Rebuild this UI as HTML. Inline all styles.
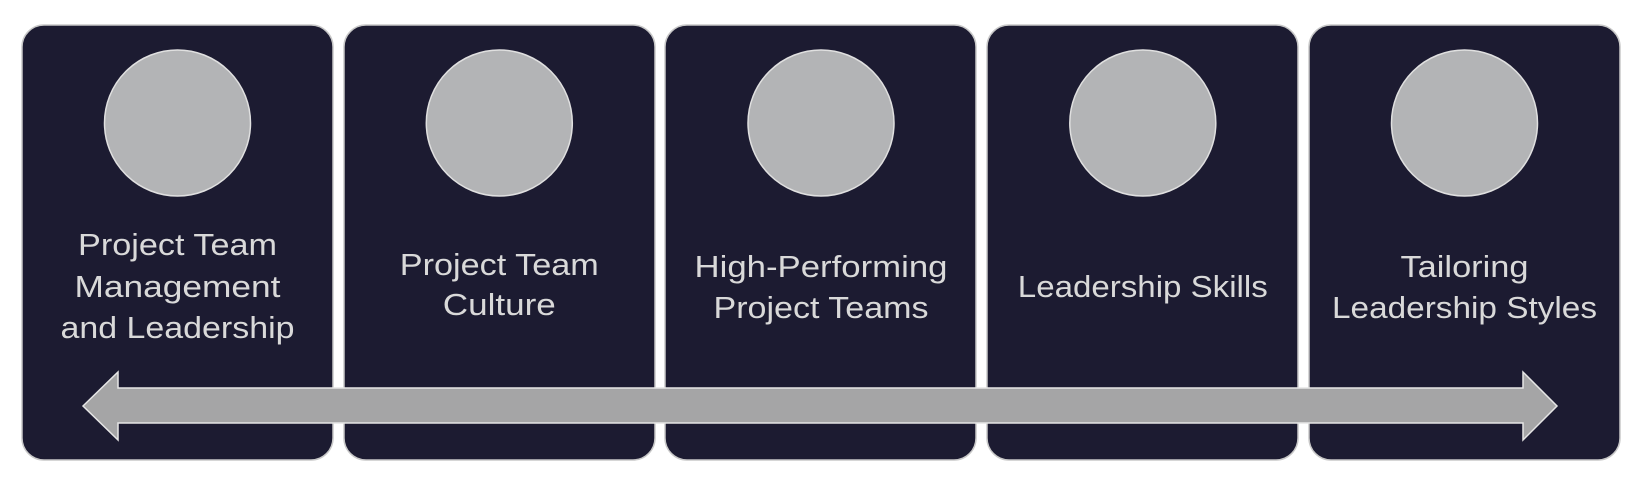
<!DOCTYPE html>
<html><head><style>
html,body{margin:0;padding:0;background:#fff;}
svg{display:block;}
text{font-family:"Liberation Sans",sans-serif;font-size:31px;fill:#d9d9d9;text-anchor:middle;}
</style></head><body>
<svg width="1644" height="494" viewBox="0 0 1644 494">
<g stroke="#c8c8c8" stroke-width="1.5" fill="#1c1b31">
<rect x="22" y="25" width="311" height="435" rx="22"/>
<rect x="344" y="25" width="311" height="435" rx="22"/>
<rect x="665" y="25" width="311" height="435" rx="22"/>
<rect x="987" y="25" width="311" height="435" rx="22"/>
<rect x="1309" y="25" width="311" height="435" rx="22"/>
</g>
<g fill="#b3b4b6" stroke="#e0e0e0" stroke-width="1.5">
<circle cx="177.5" cy="123" r="73"/>
<circle cx="499.3" cy="123" r="73"/>
<circle cx="821" cy="123" r="73"/>
<circle cx="1142.8" cy="123" r="73"/>
<circle cx="1464.5" cy="123" r="73"/>
</g>
<text x="177.5" y="255" textLength="199" lengthAdjust="spacingAndGlyphs">Project Team</text>
<text x="177.5" y="297" textLength="206" lengthAdjust="spacingAndGlyphs">Management</text>
<text x="177.5" y="338" textLength="234" lengthAdjust="spacingAndGlyphs">and Leadership</text>
<text x="499.3" y="275" textLength="199" lengthAdjust="spacingAndGlyphs">Project Team</text>
<text x="499.3" y="315" textLength="113" lengthAdjust="spacingAndGlyphs">Culture</text>
<text x="821" y="277" textLength="253" lengthAdjust="spacingAndGlyphs">High-Performing</text>
<text x="821" y="318" textLength="215" lengthAdjust="spacingAndGlyphs">Project Teams</text>
<text x="1142.8" y="297" textLength="250" lengthAdjust="spacingAndGlyphs">Leadership Skills</text>
<text x="1464.5" y="277" textLength="128" lengthAdjust="spacingAndGlyphs">Tailoring</text>
<text x="1464.5" y="318" textLength="265" lengthAdjust="spacingAndGlyphs">Leadership Styles</text>
<polygon points="83,406 118,372 118,388 1523,388 1523,372 1557,406 1523,440 1523,423 118,423 118,440" fill="#a5a5a6" stroke="#e6e6e6" stroke-width="1.5"/>
</svg>
</body></html>
